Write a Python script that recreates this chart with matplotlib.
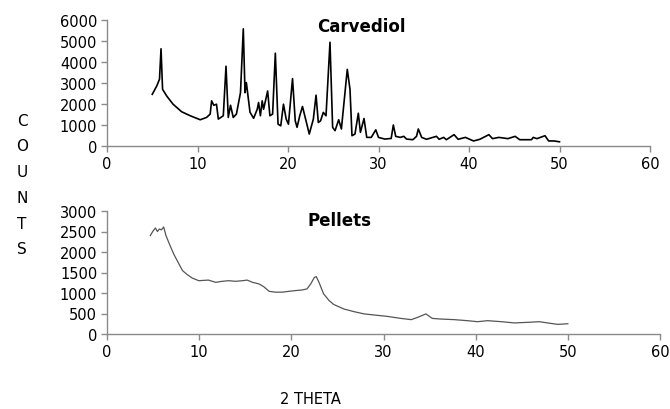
import matplotlib.pyplot as plt
import numpy as np

# --- DATA ---
carv_2theta = [5.0, 5.5, 5.8, 5.97, 6.14, 6.6, 7.3, 8.25, 9.2, 10.3, 11.0, 11.4, 11.56, 11.8,
               12.1, 12.3, 12.85, 13.15, 13.4, 13.65, 13.95, 14.3, 14.75, 15.06, 15.25, 15.4,
               15.8, 16.2, 16.6, 16.75, 16.95, 17.15, 17.3, 17.55, 17.75, 18.0, 18.3, 18.6,
               18.9, 19.2, 19.5, 19.8, 20.05, 20.5, 20.8, 21.0, 21.3, 21.6, 21.9, 22.35,
               22.8, 23.1, 23.35, 23.6, 23.9, 24.2, 24.64, 24.93, 25.2, 25.6, 25.9, 26.55,
               26.85, 27.07, 27.4, 27.77, 28.0, 28.4, 28.7, 29.2, 29.7, 30.0, 30.7, 31.4,
               31.64, 31.9, 32.4, 32.8, 33.1, 33.8, 34.2, 34.4, 34.77, 35.3, 36.4, 36.7,
               37.2, 37.5, 38.35, 38.8, 39.6, 40.5, 41.2, 42.2, 42.6, 43.3, 44.3, 45.1,
               45.6, 46.9, 47.1, 47.5, 48.4, 48.8, 49.4, 50.0]
carv_counts = [2460, 2860, 3180, 4630, 2700, 2380, 1990, 1630, 1440, 1250, 1360, 1520, 2150, 1940,
               1990, 1280, 1440, 3800, 1360, 1940, 1360, 1520, 2540, 5580, 2540, 3020,
               1610, 1320, 1750, 2070, 1440, 2150, 1750, 2230, 2620, 1440, 1520, 4420,
               1040, 960, 1990, 1280, 1040, 3210, 1200, 890, 1440, 1880, 1360, 570,
               1280, 2420, 1120, 1200, 1600, 1440, 4940, 890, 730, 1250, 810, 3650,
               2700, 490, 570, 1560, 650, 1310, 410, 410, 770, 410, 330, 360,
               1000, 460, 410, 460, 330, 300, 460, 810, 410, 320, 460, 320,
               410, 300, 540, 320, 410, 240, 320, 540, 350, 410, 350, 460,
               300, 300, 410, 350, 490, 240, 240, 200]

pel_2theta = [4.7, 4.96, 5.25, 5.47, 5.68, 5.9, 6.15, 6.4, 6.77, 7.24, 7.8, 8.2, 8.7, 9.24,
              9.96, 11.0, 11.8, 12.5, 13.2, 13.95, 14.7, 15.2, 15.8, 16.5, 17.0, 17.6,
              18.3, 19.0, 19.7, 20.5, 21.2, 21.7, 22.1, 22.5, 22.7, 23.0, 23.5, 24.1,
              24.6, 25.7, 26.8, 27.9, 29.0, 30.4, 31.9, 33.0, 33.7, 34.6, 35.3, 36.2,
              37.7, 39.1, 40.2, 41.3, 42.8, 44.2, 45.7, 46.9, 47.8, 48.9, 50.0]
pel_counts = [2400, 2500, 2585, 2500, 2560, 2540, 2610, 2400, 2195, 1950, 1710, 1545, 1450, 1365,
              1300, 1315, 1260, 1285, 1300, 1285, 1300, 1315, 1260, 1220, 1155, 1040,
              1020, 1020, 1040, 1060, 1075, 1100, 1220, 1380, 1400, 1260, 980, 815,
              720, 610, 545, 490, 463, 430, 380, 350, 405, 490, 380, 365,
              350, 325, 300, 325, 300, 270, 285, 300, 270, 235, 250]

x_ticks = [0, 10, 20, 30, 40, 50, 60]
top_yticks = [0, 1000, 2000, 3000, 4000, 5000, 6000]
bot_yticks = [0, 500, 1000, 1500, 2000, 2500, 3000]

plt.rcParams.update({
    'font.family': 'DejaVu Sans',
    'font.size': 10.5,
})

AX_COL = '#8a8a8a'


def style_axes(ax):
    for side in ('top', 'right'):
        ax.spines[side].set_visible(False)
    for side in ('left', 'bottom'):
        ax.spines[side].set_color(AX_COL)
        ax.spines[side].set_linewidth(1.0)
    ax.tick_params(direction='out', length=4, width=1, color=AX_COL,
                   labelcolor='black', labelsize=10.5, pad=3)
    ax.set_xlim(0, 60)
    ax.set_xticks(x_ticks)


fig = plt.figure(figsize=(6.7, 4.1), dpi=100)

# top panel: Carvediol
ax1 = fig.add_axes([107 / 670, 1 - 147 / 410, 543 / 670, 126 / 410])
ax1.plot(carv_2theta, carv_counts, color='black', linewidth=1.2)
style_axes(ax1)
ax1.set_ylim(0, 6000)
ax1.set_yticks(top_yticks)
ax1.text(0.468, 0.95, 'Carvediol', transform=ax1.transAxes, ha='center', va='center',
         fontsize=12, fontweight='bold')

# bottom panel: Pellets
ax2 = fig.add_axes([107 / 670, 1 - 335 / 410, 553 / 670, 123 / 410])
ax2.plot(pel_2theta, pel_counts, color='#555555', linewidth=0.9)
style_axes(ax2)
ax2.set_ylim(0, 3000)
ax2.set_yticks(bot_yticks)
ax2.text(0.421, 0.93, 'Pellets', transform=ax2.transAxes, ha='center', va='center',
         fontsize=12, fontweight='bold')

# vertical COUNTS label, one letter per line
for k, ch in enumerate('COUNTS'):
    fig.text(22 / 670, 1 - (121 + k * 25.8) / 410, ch, ha='center', va='center', fontsize=11)

fig.text(310 / 670, 1 - 400 / 410, '2 THETA', ha='center', va='center', fontsize=10.5)

plt.savefig('out.png', dpi=100)
